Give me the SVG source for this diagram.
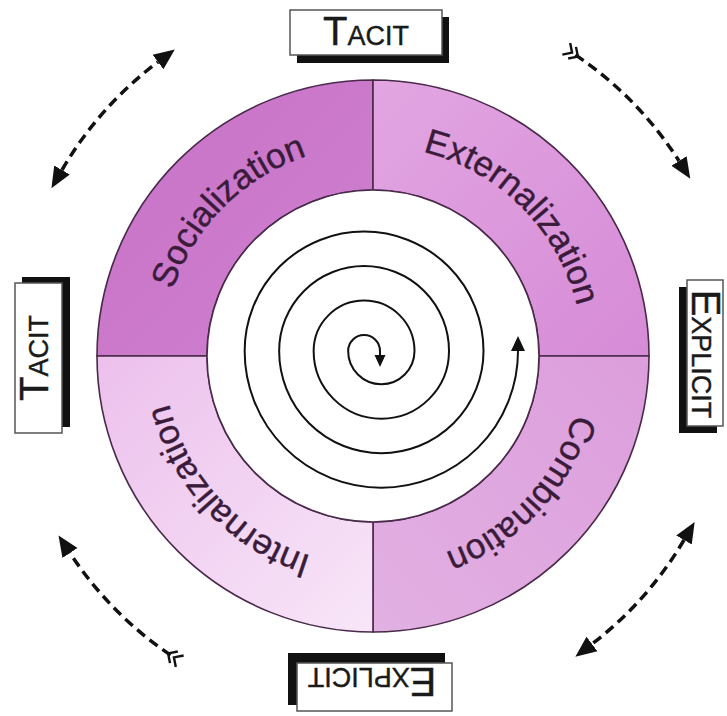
<svg xmlns="http://www.w3.org/2000/svg" width="727" height="716" viewBox="0 0 727 716">
<style>
.q{stroke:#4a2a4a;stroke-width:1.6}
.lbl{font-family:"Liberation Sans",Arial,sans-serif;font-size:35px;fill:#3a1c3a;stroke:#3a1c3a;stroke-width:0.4}
.box{fill:#fff;stroke:#555;stroke-width:1.5}
.sh{fill:#111}
.bt{font-family:"Liberation Sans",Arial,sans-serif;fill:#1a1a1a;text-anchor:middle;stroke:#1a1a1a;stroke-width:0.4}
.big{font-size:40px}
.sm{font-size:27px}
.dash{fill:none;stroke:#111;stroke-width:3.5;stroke-dasharray:10 6}
.sp{fill:none;stroke:#111;stroke-width:2}
</style>
<defs>
<linearGradient id="gS" x1="0" y1="0" x2="1" y2="1"><stop offset="0" stop-color="#c873c8"/><stop offset="1" stop-color="#cf7fcf"/></linearGradient>
<linearGradient id="gE" x1="0" y1="0" x2="1" y2="1"><stop offset="0" stop-color="#e2a6e2"/><stop offset="1" stop-color="#d68bd6"/></linearGradient>
<linearGradient id="gC" x1="1" y1="0" x2="0" y2="1"><stop offset="0" stop-color="#dc9edc"/><stop offset="1" stop-color="#e2b0e2"/></linearGradient>
<linearGradient id="gI" x1="0" y1="0" x2="1" y2="1"><stop offset="0" stop-color="#ecc0ec"/><stop offset="1" stop-color="#f8e6f8"/></linearGradient>
<marker id="ah" markerUnits="userSpaceOnUse" markerWidth="22" markerHeight="20" refX="0" refY="10" orient="auto-start-reverse"><path d="M0,1 L21,10 L0,19 z" fill="#111"/></marker>
<marker id="tail" markerUnits="userSpaceOnUse" markerWidth="20" markerHeight="18" refX="12" refY="9" orient="auto"><path d="M1,2 L8,9 L1,16 M8,2 L15,9 L8,16" fill="none" stroke="#111" stroke-width="2.4"/></marker>
<marker id="si" markerUnits="userSpaceOnUse" markerWidth="14" markerHeight="12" refX="0" refY="6" orient="auto-start-reverse"><path d="M0,0.5 L12,6 L0,11.5 z" fill="#111"/></marker>
<marker id="so" markerUnits="userSpaceOnUse" markerWidth="16" markerHeight="16" refX="0" refY="8" orient="auto"><path d="M0,1 L15,8 L0,15 z" fill="#111"/></marker>
<path id="pS" d="M223.5,504.5 A210,210 0 0 1 521.5,207.5"/>
<path id="pE" d="M224.5,207.5 A210,210 0 0 1 521.5,504.5"/>
<path id="pC" d="M516.2,202.4 A210,210 0 0 1 229.8,509.6"/>
<path id="pI" d="M516.2,509.6 A210,210 0 0 1 229.8,202.4"/>
</defs>

<g id="socialization">
<path class="q" fill="url(#gS)" d="M97,356 A276,276 0 0 1 373,80 L373,190 A166,166 0 0 0 207,356 Z"/>
<text class="lbl"><textPath href="#pS" startOffset="50%" text-anchor="middle">Socialization</textPath></text>
</g>
<g id="externalization">
<path class="q" fill="url(#gE)" d="M373,80 A276,276 0 0 1 649,356 L539,356 A166,166 0 0 0 373,190 Z"/>
<text class="lbl"><textPath href="#pE" startOffset="50%" text-anchor="middle">Externalization</textPath></text>
</g>
<g id="combination">
<path class="q" fill="url(#gC)" d="M649,356 A276,276 0 0 1 373,632 L373,522 A166,166 0 0 0 539,356 Z"/>
<text class="lbl"><textPath href="#pC" startOffset="50%" text-anchor="middle">Combination</textPath></text>
</g>
<g id="internalization">
<path class="q" fill="url(#gI)" d="M373,632 A276,276 0 0 1 97,356 L207,356 A166,166 0 0 0 373,522 Z"/>
<text class="lbl"><textPath href="#pI" startOffset="50%" text-anchor="middle">Internalization</textPath></text>
</g>
<g id="center">
<circle cx="373" cy="356" r="166" fill="#fff" stroke="#4a2a4a" stroke-width="1.6"/>
</g>

<g id="tacit-top">
<rect class="sh" x="297" y="17" width="152" height="46"/>
<rect class="box" x="290" y="10" width="152" height="45"/>
<text class="bt" x="366" y="45"><tspan class="big">T</tspan><tspan class="sm">ACIT</tspan></text>
</g>
<g id="tacit-left">
<rect class="sh" x="22" y="277" width="48" height="150"/>
<rect class="box" x="15" y="283" width="47" height="150"/>
<text class="bt" transform="translate(48,358) rotate(-90)"><tspan class="big">T</tspan><tspan class="sm">ACIT</tspan></text>
</g>
<g id="explicit-right">
<rect class="sh" x="679" y="287" width="38" height="146"/>
<rect class="box" x="687" y="280" width="36" height="146"/>
<text class="bt" transform="translate(692,354) rotate(90)"><tspan class="big">E</tspan><tspan class="sm">XPLICIT</tspan></text>
</g>
<g id="explicit-bottom">
<rect class="sh" x="288" y="653" width="157" height="52"/>
<rect class="box" x="297" y="663" width="155" height="48"/>
<text class="bt" transform="translate(372,668) rotate(180)"><tspan class="big">E</tspan><tspan class="sm">XPLICIT</tspan></text>
</g>

<g id="connectors">
<path class="sp" marker-start="url(#si)" marker-end="url(#so)" d="M380,355 L380,351 A15.925,15.925 0 0 0 348.15,351 A33.175,33.175 0 0 0 414.5,351 A50.425,50.425 0 0 0 313.65,351 A67.675,67.675 0 0 0 449,351 A84.925,84.925 0 0 0 279.15,351 A102.175,102.175 0 0 0 483.5,351 A119.425,119.425 0 0 0 244.65,351 A136.675,136.675 0 0 0 518,351"/>
<path class="dash" marker-start="url(#ah)" marker-end="url(#ah)" d="M62,170 A362,362 0 0 1 158,62"/>
<path class="dash" marker-start="url(#tail)" marker-end="url(#ah)" d="M575.4,54.9 A362,362 0 0 1 679,161"/>
<path class="dash" marker-start="url(#ah)" marker-end="url(#ah)" d="M684,540 A362,362 0 0 1 592,644"/>
<path class="dash" marker-start="url(#tail)" marker-end="url(#ah)" d="M170.6,655.1 A362,362 0 0 1 70,553"/>
</g>
</svg>
